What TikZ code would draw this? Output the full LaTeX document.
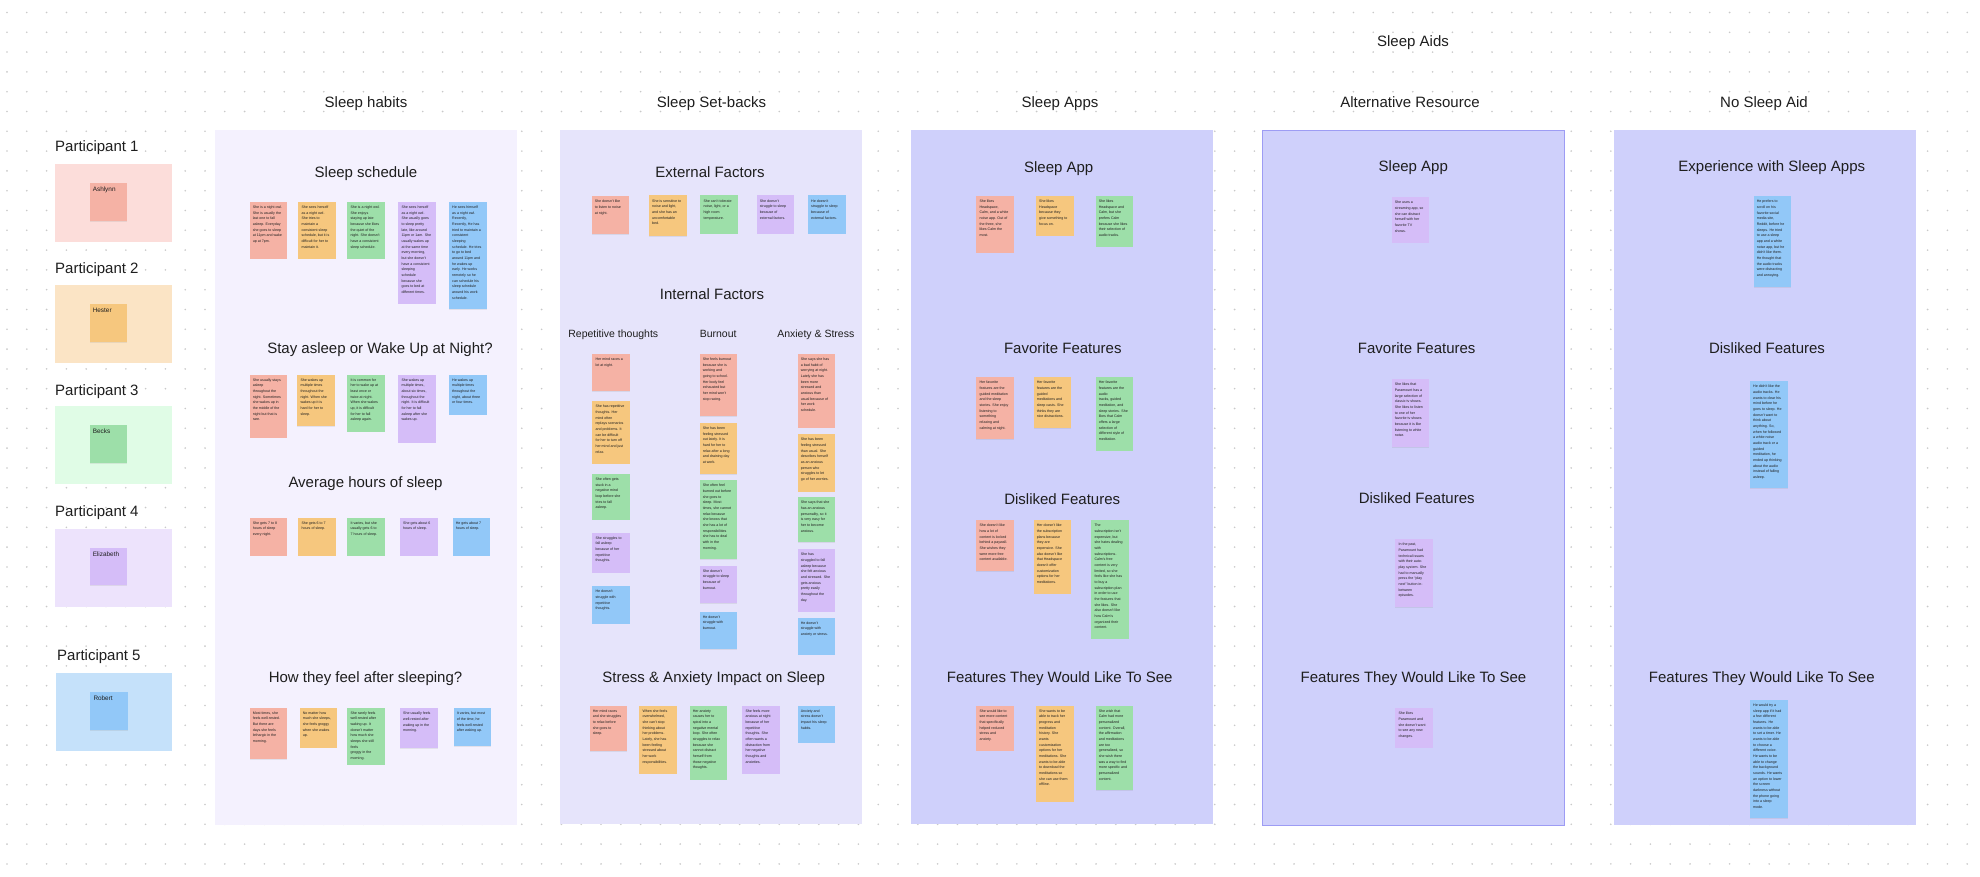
\documentclass[tikz,border=0pt]{standalone}
\usepackage{fontspec}
\setmainfont{Liberation Sans}
\usepackage{xcolor}
\usepackage{tikz}
\usetikzlibrary{positioning,shadows}
\definecolor{inkgrey}{HTML}{1E1E1E}
\definecolor{dotgrey}{HTML}{C9C9C9}
\definecolor{habitsbg}{HTML}{F4F1FE}
\definecolor{setbackbg}{HTML}{E6E4FB}
\definecolor{aidsbg}{HTML}{CFD0FB}
\definecolor{aidsedge}{HTML}{9D9CF4}
\definecolor{notesalmon}{HTML}{F5B2A5}
\definecolor{noteorange}{HTML}{F6C77E}
\definecolor{notegreen}{HTML}{9DDFA9}
\definecolor{noteviolet}{HTML}{D5BDF8}
\definecolor{noteblue}{HTML}{92C8F8}
\definecolor{pboxsalmon}{HTML}{FCDDDA}
\definecolor{pboxorange}{HTML}{FBE4C5}
\definecolor{pboxgreen}{HTML}{E0FCE6}
\definecolor{pboxviolet}{HTML}{EDE3FC}
\definecolor{pboxblue}{HTML}{C5E1FA}
\tikzset{
  notebox/.style={anchor=north west, inner xsep=3.3pt, inner ysep=4pt, text=inkgrey,
    font=\fontsize{3.6}{5.67}\selectfont,
    drop shadow={shadow xshift=0pt, shadow yshift=-0.6pt, opacity=0.15}},
  namenote/.style={font=\fontsize{6.4}{7.5}\selectfont},
  colhead/.style={font=\fontsize{15}{18}\selectfont, text=inkgrey, inner sep=0pt, anchor=base},
  paneltitle/.style={font=\fontsize{15}{18}\selectfont, text=inkgrey, inner sep=0pt, anchor=base},
  subhead/.style={font=\fontsize{10.5}{12}\selectfont, text=inkgrey, inner sep=0pt, anchor=base},
  plabel/.style={colhead, anchor=base west},
}
% sticky note: [extra style] name, colour, x, y (top left), height, text
\newcommand{\stickynote}[7][]{%
  \node[notebox, fill=#3, #1] (#2) at (#4,#5)
    {\parbox[t][\dimexpr#6pt-8pt\relax][t]{31pt}{\raggedright #7}};}

\begin{document}
\begin{tikzpicture}[x=1pt,y=-1pt]
  \useasboundingbox (0,0) rectangle (1980,877);
  \fill[white] (0,0) rectangle (1980,877);

  % Board dot grid
  \foreach \i in {0,...,99}
    \foreach \j in {0,...,43}
      \fill[dotgrey] ({7+19.8*\i},{12.5+19.8*\j}) circle (0.9pt);

  % Panels
  \fill[habitsbg] (215,130) rectangle (517,825);
  \fill[setbackbg] (560,130) rectangle (862,824);
  \fill[aidsbg] (911,130) rectangle (1213,824);
  \fill[aidsbg, draw=aidsedge, line width=0.8pt] (1262,130) rectangle (1564.7,825);
  \fill[aidsbg] (1614,130) rectangle (1916.3,825);

  % Column headers
  \node[colhead] (hAids) at (1413,46.1) {Sleep Aids};
  \node[colhead] (hHabits) at (366,107.5) {Sleep habits};
  \node[colhead] (hSetbacks) at (711.5,107.5) {Sleep Set-backs};
  \node[colhead] (hApps) at (1060,107.5) {Sleep Apps};
  \node[colhead] (hAlt) at (1410,107.5) {Alternative Resource};
  \node[colhead] (hNone) at (1764,107.5) {No Sleep Aid};

  % Participants
  \node[plabel] (lab1) at (55,151.1) {Participant 1};
  \fill[pboxsalmon] (55,164.4) rectangle (171.7,241.6);
  \stickynote[namenote]{who1}{notesalmon}{89.3}{183}{37.8}{Ashlynn}
  \node[plabel] (lab2) at (55,273.4) {Participant 2};
  \fill[pboxorange] (55,285) rectangle (171.7,362.7);
  \stickynote[namenote]{who2}{noteorange}{89.3}{303.8}{38.2}{Hester}
  \node[plabel] (lab3) at (55,395.9) {Participant 3};
  \fill[pboxgreen] (55,406.3) rectangle (171.7,484.3);
  \stickynote[namenote]{who3}{notegreen}{89.3}{425}{37.7}{Becks}
  \node[plabel] (lab4) at (55,516.3) {Participant 4};
  \fill[pboxviolet] (55,528.7) rectangle (171.7,606.7);
  \stickynote[namenote]{who4}{noteviolet}{89.3}{547.4}{37.7}{Elizabeth}
  \node[plabel] (lab5) at (57,660.7) {Participant 5};
  \fill[pboxblue] (55.7,673) rectangle (172.3,750.7);
  \stickynote[namenote]{who5}{noteblue}{90}{691.8}{38.2}{Robert}

  % Sleep habits
  \node[paneltitle] (tSchedule) at (366,177.7) {Sleep schedule};
  \stickynote{sched1}{notesalmon}{249.3}{201.7}{56.7}{She is a night owl.\\She is usually the\\last one to fall\\asleep. Everyday\\she goes to sleep\\at 11pm and wake\\up at 7pm.}
  \stickynote{sched2}{noteorange}{298}{201.7}{56.7}{She sees herself\\as a night owl.\\She tries to\\maintain a\\consistent sleep\\schedule, but it is\\difficult for her to\\maintain it.}
  \stickynote{sched3}{notegreen}{347}{201.7}{56.7}{She is a night owl.\\She enjoys\\staying up late\\because she likes\\the quiet of the\\night. She doesn't\\have a consistent\\sleep schedule.}
  \stickynote{sched4}{noteviolet}{398}{201.7}{101.7}{She sees herself\\as a night owl.\\She usually goes\\to sleep pretty\\late, like around\\11pm or 1am. She\\usually wakes up\\at the same time\\every morning,\\but she doesn't\\have a consistent\\sleeping\\schedule\\because she\\goes to bed at\\different times.}
  \stickynote{sched5}{noteblue}{448.7}{201.7}{107.3}{He sees himself\\as a night owl.\\Recently,\\Recently, He has\\tried to maintain a\\consistent\\sleeping\\schedule. He tries\\to go to bed\\around 11pm and\\he wakes up\\early. He works\\remotely so he\\can schedule his\\sleep schedule\\around his work\\schedule.}

  \node[paneltitle] (tWake) at (380,353.7) {Stay asleep or Wake Up at Night?};
  \stickynote{wake1}{notesalmon}{249.3}{374.3}{63}{She usually stays\\asleep\\throughout the\\night. Sometimes\\she wakes up in\\the middle of the\\night but that is\\rare.}
  \stickynote{wake2}{noteorange}{297}{374.3}{51.7}{She wakes up\\multiple times\\throughout the\\night. When she\\wakes up it is\\hard for her to\\sleep.}
  \stickynote{wake3}{notegreen}{347}{374.3}{57.3}{It is common for\\her to wake up at\\least once or\\twice at night.\\When she wakes\\up, it is difficult\\for her to fall\\asleep again.}
  \stickynote{wake4}{noteviolet}{398}{374.3}{68}{She wakes up\\multiple times,\\about six times,\\throughout the\\night. It is difficult\\for her to fall\\asleep after she\\wakes up.}
  \stickynote{wake5}{noteblue}{448.7}{374.3}{40}{He wakes up\\multiple times\\throughout the\\night, about three\\or four times.}

  \node[paneltitle] (tHours) at (365.5,487.7) {Average hours of sleep};
  \stickynote{hours1}{notesalmon}{249.3}{517.3}{38}{She gets 7 to 8\\hours of sleep\\every night.}
  \stickynote{hours2}{noteorange}{298}{517.3}{38}{She gets 6 to 7\\hours of sleep.}
  \stickynote{hours3}{notegreen}{347}{517.3}{38}{It varies, but she\\usually gets 6 to\\7 hours of sleep.}
  \stickynote{hours4}{noteviolet}{399.7}{517.3}{38}{She gets about 6\\hours of sleep.}
  \stickynote{hours5}{noteblue}{452.3}{517.3}{38}{He gets about 7\\hours of sleep.}

  \node[paneltitle] (tFeel) at (365.5,682.7) {How they feel after sleeping?};
  \stickynote{feel1}{notesalmon}{249.3}{707.3}{51.7}{Most times, she\\feels well-rested.\\But there are\\days she feels\\lethargic in the\\morning.}
  \stickynote{feel2}{noteorange}{299.3}{707.3}{40.3}{No matter how\\much she sleeps,\\she feels groggy\\when she wakes\\up.}
  \stickynote{feel3}{notegreen}{347}{707.3}{57.3}{She rarely feels\\well-rested after\\waking up. It\\doesn't matter\\how much she\\sleeps she still feels\\groggy in the\\morning.}
  \stickynote{feel4}{noteviolet}{399.7}{708}{40}{She usually feels\\well-rested after\\waking up in the\\morning.}
  \stickynote{feel5}{noteblue}{453.3}{708}{37.7}{It varies, but most\\of the time, he\\feels well-rested\\after waking up.}

  % Sleep set-backs
  \node[paneltitle] (tExternal) at (710,177.7) {External Factors};
  \stickynote{ext1}{notesalmon}{591.3}{196}{38.3}{She doesn't like\\to listen to noise\\at night.}
  \stickynote{ext2}{noteorange}{648.7}{195.3}{40.7}{She is sensitive to\\noise and light,\\and she has an\\uncomfortable\\bed.}
  \stickynote{ext3}{notegreen}{700}{195.3}{38.3}{She can't tolerate\\noise, light, or a\\high room\\temperature.}
  \stickynote{ext4}{noteviolet}{756.3}{195.3}{38.3}{She doesn't\\struggle to sleep\\because of\\external factors.}
  \stickynote{ext5}{noteblue}{807.7}{195.3}{38.3}{He doesn't\\struggle to sleep\\because of\\external factors.}

  \node[paneltitle] (tInternal) at (712,299.4) {Internal Factors};
  \node[subhead] (tRepeat) at (613.3,337.1) {Repetitive thoughts};
  \node[subhead] (tBurnout) at (718.2,337.1) {Burnout};
  \node[subhead] (tAnxiety) at (815.8,337.1) {Anxiety \& Stress};
  \stickynote{rep1}{notesalmon}{592}{353.7}{37.3}{Her mind races a\\lot at night.}
  \stickynote{rep2}{noteorange}{592}{401}{62.3}{She has repetitive\\thoughts. Her\\mind often\\replays scenarios\\and problems. It\\can be difficult\\for her to turn off\\her mind and just\\relax.}
  \stickynote{rep3}{notegreen}{592}{473.7}{45.7}{She often gets\\stuck in a\\negative mind\\loop before she\\tries to fall\\asleep.}
  \stickynote{rep4}{noteviolet}{592}{532.3}{40.3}{She struggles to\\fall asleep\\because of her\\repetitive\\thoughts.}
  \stickynote{rep5}{noteblue}{592}{586}{37.3}{He doesn't\\struggle with\\repetitive\\thoughts.}
  \stickynote{burn1}{notesalmon}{699.3}{353.7}{62.3}{She feels burnout\\because she is\\working and\\going to school.\\Her body feel\\exhausted but\\her mind won't\\stop racing.}
  \stickynote{burn2}{noteorange}{699.3}{422.7}{51}{She has been\\feeling stressed\\out lately. It is\\hard for her to\\relax after a long\\and draining day\\at work.}
  \stickynote{burn3}{notegreen}{699.3}{480}{79}{She often feel\\burned out before\\she goes to\\sleep. Most\\times, she cannot\\relax because\\she knows that\\she has a lot of\\responsibilities\\she has to deal\\with in the\\morning.}
  \stickynote{burn4}{noteviolet}{699.3}{565.3}{37.7}{She doesn't\\struggle to sleep\\because of\\burnout.}
  \stickynote{burn5}{noteblue}{699.3}{611.3}{37.7}{He doesn't\\struggle with\\burnout.}
  \stickynote{anx1}{notesalmon}{797.3}{353.7}{73.7}{She says she has\\a bad habit of\\worrying at night.\\Lately she has\\been more\\stressed and\\anxious than\\usual because of\\her work\\schedule.}
  \stickynote{anx2}{noteorange}{797.3}{434}{57.3}{She has been\\feeling stressed\\than usual. She\\describes herself\\as an anxious\\person who\\struggles to let\\go of her worries.}
  \stickynote{anx3}{notegreen}{797.3}{497}{45}{She says that she\\has an anxious\\personality, so it\\is very easy for\\her to become\\anxious.}
  \stickynote{anx4}{noteviolet}{797.3}{549}{62.3}{She has\\struggled to fall\\asleep because\\she felt anxious\\and stressed. She\\gets anxious\\pretty easily\\throughout the\\day.}
  \stickynote{anx5}{noteblue}{797.3}{617.3}{37}{He doesn't\\struggle with\\anxiety or stress.}

  \node[paneltitle] (tImpact) at (713.7,682.7) {Stress \& Anxiety Impact on Sleep};
  \stickynote{imp1}{notesalmon}{589.3}{705.3}{45.7}{Her mind races\\and she struggles\\to relax before\\she goes to\\sleep.}
  \stickynote{imp2}{noteorange}{639}{705.3}{68.3}{When she feels\\overwhelmed,\\she can't stop\\thinking about\\her problems.\\Lately, she has\\been feeling\\stressed about\\her work\\responsibilities.}
  \stickynote{imp3}{notegreen}{689.3}{705.3}{74}{Her anxiety\\causes her to\\spiral into a\\negative mental\\loop. She often\\struggles to relax\\because she\\cannot distract\\herself from\\those negative\\thoughts.}
  \stickynote{imp4}{noteviolet}{742}{705.3}{68.3}{She feels more\\anxious at night\\because of her\\repetitive\\thoughts. She\\often wants a\\distraction from\\her negative\\thoughts and\\anxieties.}
  \stickynote{imp5}{noteblue}{797.3}{705.3}{37}{Anxiety and\\stress doesn't\\impact his sleep\\habits.}

  % Sleep apps
  \node[paneltitle] (tAppUse) at (1058.7,172.1) {Sleep App};
  \stickynote{app1}{notesalmon}{976}{195.7}{56.7}{She likes\\Headspace,\\Calm, and a white\\noise app. Out of\\the three, she\\likes Calm the\\most.}
  \stickynote{app2}{noteorange}{1035.7}{195.7}{39.7}{She likes\\Headspace\\because they\\give something to\\focus on.}
  \stickynote{app3}{notegreen}{1095.3}{195.7}{51}{She likes\\Headspace and\\Calm, but she\\prefers Calm\\because she likes\\their selection of\\audio tracks.}

  \node[paneltitle] (tAppFav) at (1062.8,353.4) {Favorite Features};
  \stickynote{fav1}{notesalmon}{976}{377}{62}{Her favorite\\features are the\\guided meditation\\and the sleep\\stories. She enjoy\\listening to\\something\\relaxing and\\calming at night.}
  \stickynote{fav2}{noteorange}{1033.3}{377}{50.7}{Her favorite\\features are the\\guided\\meditations and\\sleep casts. She\\thinks they are\\nice distractions.}
  \stickynote{fav3}{notegreen}{1095.3}{377}{73.3}{Her favorite\\features are the\\audio\\tracks, guided\\meditation, and\\sleep stories. She\\likes that Calm\\offers a large\\selection of\\different style of\\meditation.}

  \node[paneltitle] (tAppDis) at (1062.2,504.1) {Disliked Features};
  \stickynote{dis1}{notesalmon}{976}{520}{50.7}{She doesn't like\\how a lot of\\content is locked\\behind a paywall.\\She wishes they\\were more free\\content available.}
  \stickynote{dis2}{noteorange}{1033.3}{520}{73.3}{Her doesn't like\\the subscription\\plans because\\they are\\expensive. She\\also doesn't like\\that Headspace\\doesn't offer\\customization\\options for her\\meditations.}
  \stickynote{dis3}{notegreen}{1091}{520}{118.3}{The\\subscription isn't\\expensive, but\\she hates dealing\\with\\subscriptions.\\Calm's free\\content is very\\limited, so she\\feels like she has\\to buy a\\subscription plan\\in order to use\\the features that\\she likes. She\\also doesn't like\\how Calm's\\organized their\\content.}

  \node[paneltitle] (tAppWish) at (1059.7,682.7) {Features They Would Like To See};
  \stickynote{wish1}{notesalmon}{976}{705.3}{45.3}{She would like to\\see more content\\that specifically\\helped reduced\\stress and\\anxiety.}
  \stickynote{wish2}{noteorange}{1035.7}{705.3}{96}{She wants to be\\able to track her\\progress and\\meditation\\history. She\\wants\\customization\\options for her\\meditations. She\\wants to be able\\to download the\\meditations so\\she can use them\\offline.}
  \stickynote{wish3}{notegreen}{1095.3}{705.3}{84.7}{She wish that\\Calm had more\\personalized\\content. Overall,\\the affirmation\\and meditations\\are too\\generalized, so\\she wish there\\was a way to find\\more specific and\\personalized\\content.}

  % Alternative resource
  \node[paneltitle] (tAltUse) at (1413.3,172) {Sleep App};
  \stickynote{alt1}{noteviolet}{1391.3}{197}{45.5}{She uses a\\streaming app, so\\she can distract\\herself with her\\favorite TV\\shows.}
  \node[paneltitle] (tAltFav) at (1416.7,353.3) {Favorite Features};
  \stickynote{alt2}{noteviolet}{1391.3}{379}{68}{She likes that\\Paramount has a\\large selection of\\classic tv shows.\\She likes to listen\\to one of her\\favorite tv shows\\because it is like\\listening to white\\noise.}
  \node[paneltitle] (tAltDis) at (1416.7,503.7) {Disliked Features};
  \stickynote{alt3}{noteviolet}{1395}{539}{67.8}{In the past,\\Paramount had\\technical issues\\with their auto-\\play system. She\\had to manually\\press the ``play\\next'' button in-\\between\\episodes.}
  \node[paneltitle] (tAltWish) at (1413.5,682.3) {Features They Would Like To See};
  \stickynote{alt4}{noteviolet}{1395}{708}{39.4}{She likes\\Paramount and\\she doesn't want\\to see any new\\changes.}

  % No sleep aid
  \node[paneltitle] (tNoneUse) at (1771.8,172) {Experience with Sleep Apps};
  \stickynote{none1}{noteblue}{1753.3}{196}{91}{He prefers to\\scroll on his\\favorite social\\media site,\\Reddit, before he\\sleeps. He tried\\to use a sleep\\app and a white\\noise app, but he\\didn't like them.\\He thought that\\the audio tracks\\were distracting\\and annoying.}
  \node[paneltitle] (tNoneDis) at (1767,353.3) {Disliked Features};
  \stickynote{none2}{noteblue}{1749.7}{381}{107}{He didn't like the\\audio tracks. He\\wants to clear his\\mind before he\\goes to sleep. He\\doesn't want to\\think about\\anything. So,\\when he followed\\a white noise\\audio track or a\\guided\\meditation, he\\ended up thinking\\about the audio\\instead of falling\\asleep.}
  \node[paneltitle] (tNoneWish) at (1761.8,682.3) {Features They Would Like To See};
  \stickynote{none3}{noteblue}{1749.7}{699.6}{118.4}{He would try a\\sleep app if it had\\a few different\\features. He\\wants to be able\\to set a timer. He\\wants to be able\\to choose a\\different voice.\\He wants to be\\able to change\\the background\\sounds. He wants\\an option to lower\\the screen\\darkness without\\the phone going\\into a sleep\\mode.}
\end{tikzpicture}
\end{document}
